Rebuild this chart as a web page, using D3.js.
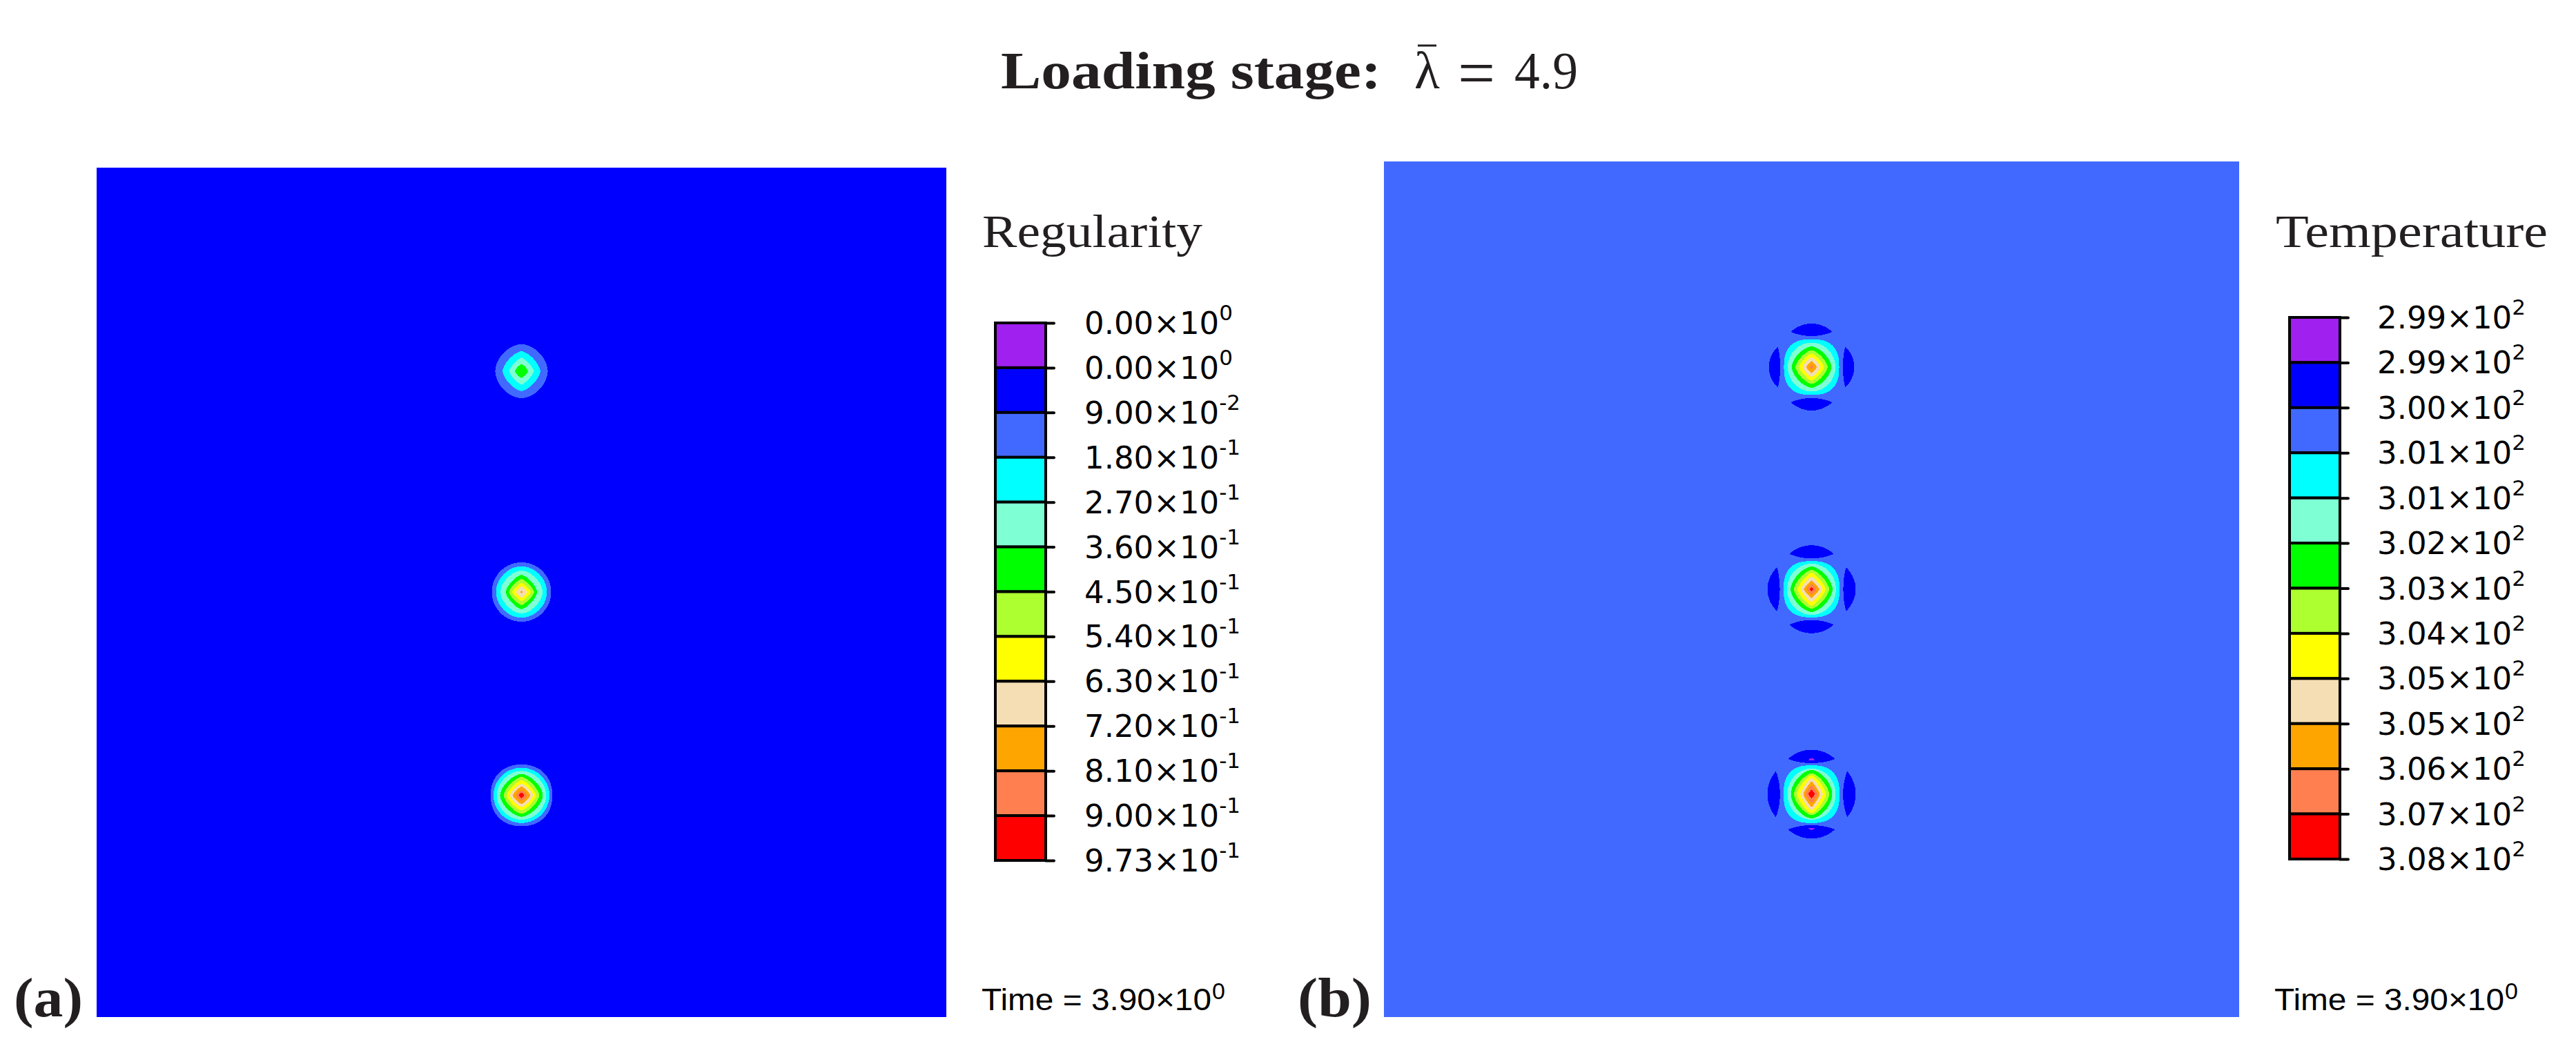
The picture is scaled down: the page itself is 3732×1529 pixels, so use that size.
<!DOCTYPE html>
<html><head><meta charset="utf-8">
<script src="https://cdnjs.cloudflare.com/ajax/libs/d3/7.8.5/d3.min.js"></script>
<style>html,body{margin:0;padding:0;background:#fff}svg{display:block}</style></head>
<body><svg id="c" width="3732" height="1529"></svg>
<script>
// Band colours, legend order (top to bottom)
const bandColors = ["#A020F0","#0000FF","#4169FF","#00FFFF","#7FFFD4","#00FF00","#ADFF2F","#FFFF00","#F5DEB3","#FFA500","#FF7F50","#FF0000"];
// Legend tick labels: mantissa, exponent
const regularityMantissa = ["0.00","0.00","9.00","1.80","2.70","3.60","4.50","5.40","6.30","7.20","8.10","9.00","9.73"];
const regularityExponent = ["0","0","-2","-1","-1","-1","-1","-1","-1","-1","-1","-1","-1"];
const temperatureMantissa = ["2.99","2.99","3.00","3.01","3.01","3.02","3.03","3.04","3.05","3.05","3.06","3.07","3.08"];
const temperatureExponent = ["2","2","2","2","2","2","2","2","2","2","2","2","2"];
// Spot centres in specimen coordinates (0..1000)
const regularitySpots = [[500,239.6],[500,499.6],[500,739]];
const temperatureSpots = [[500,240.3],[500,500],[500,739.5]];
// Iso-band outlines per spot: [band index, half-width, half-height, roundness]
const regularityBands = [
 [[2,30.9,31.7,1.8],[3,22.3,23.5,1.5],[4,14.6,15.8,1.3],[5,7.7,8.0,1.35]],
 [[2,34.9,34.9,2.0],[3,30.0,30.3,1.9],[4,24.9,25.2,1.7],[5,18.7,20.3,1.4],[6,15.0,15.4,1.3],[7,11.0,10.8,1.25],[8,6.5,6.5,1.25],[9,1.9,1.6,1.2]],
 [[2,36.3,36.3,2.2],[3,32.9,32.5,2.0],[4,29.0,28.7,1.9],[5,25.2,25.2,1.6],[6,21.1,21.7,1.45],[7,17.3,17.9,1.35],[8,13.8,13.8,1.3],[9,10.3,10.4,1.25],[10,6.5,6.1,1.25],[11,3.1,3.2,1.2]]
];
const temperatureBands = [
 [[3,32.3,32.5,2.6],[4,27.8,28.5,2.0],[5,23.2,24.1,1.6],[6,18.8,19.7,1.45],[7,14.5,15.8,1.35],[8,10.3,11.6,1.3],[9,5.9,7.0,1.25],[10,2.2,2.2,1.2]],
 [[3,32.7,32.9,2.6],[4,28.5,29.9,2.0],[5,24.5,26.6,1.6],[6,20.7,22.8,1.45],[7,16.5,19.4,1.3],[8,12.9,14.9,1.2],[9,9.1,10.1,1.2],[10,5.6,6.3,1.2],[11,2.2,2.4,1.2]],
 [[3,32.7,33.7,2.6],[4,28.2,29.9,2.0],[5,24.2,28.2,1.7],[6,20.7,24.5,1.5],[7,16.9,22.2,1.4],[8,13.2,19.4,1.2],[9,9.7,14.8,1.2],[10,7.0,10.2,1.2],[11,3.8,5.1,1.2]]
];
// Cold lobes around each temperature spot: [band, side angle deg, tip radius, outer radius, inner radius, half-length]
const temperatureLobes = [
 [[1,0,41.2,50.8,36.3,24.0],[1,180,41.2,50.8,36.3,24.0],[1,90,39.5,50.0,36.6,23.6],[1,270,39.5,50.0,36.6,23.6]],
 [[1,0,41.4,51.4,36.1,25.8],[1,180,41.4,51.4,36.1,25.8],[1,90,40.4,51.6,37.1,25.4],[1,270,40.4,51.6,37.1,25.4]],
 [[1,0,41.2,51.9,36.3,27.2],[1,180,41.2,51.9,36.3,27.2],[1,90,41.7,51.6,36.9,26.6],[1,270,41.7,51.6,36.9,26.6],[0,0,39.5,42.0,39.5,3.6],[0,180,39.5,42.0,39.5,3.6]]
];
const titleBold = "Loading stage:", titleLambda = "λ", titleEquals = "=", titleValue = "4.9";
const timeMantissa = "Time = 3.90×10", timeExponent = "0";

const svg = d3.select("#c");
const specimenDomain = [0,1000];

function panel(cfg){
  const x = d3.scaleLinear().domain(specimenDomain).range([cfg.x0,cfg.x1]);
  const y = d3.scaleLinear().domain(specimenDomain).range([cfg.y0,cfg.y1]);
  const g = svg.append("g").attr("shape-rendering","crispEdges");
  g.append("rect").attr("x",x(0)).attr("y",y(0)).attr("width",x(1000)-x(0)).attr("height",y(1000)-y(0)).attr("fill",bandColors[cfg.bg]);
  const line = d3.line().x(d=>x(d[0])).y(d=>y(d[1])).curve(d3.curveLinearClosed);
  const angles = d3.range(0,360,3).map(a=>a*Math.PI/180);
  cfg.spots.forEach((c,i)=>{
    if(cfg.lobes){
      const ts = d3.range(-1,1.0001,0.05);
      cfg.lobes[i].forEach(([band,ang,tip,outer,inner,half])=>{
        const th = ang*Math.PI/180;
        const prof = t=>Math.pow(Math.max(0,1-t*t),0.9);
        const pts = ts.map(t=>[half*t, tip+(outer-tip)*prof(t)])
            .concat(ts.slice().reverse().map(t=>[half*t, tip-(tip-inner)*prof(t)]));
        const rot = pts.map(([u,r])=>[c[0]+u*Math.cos(th)+r*Math.sin(th), c[1]+u*Math.sin(th)-r*Math.cos(th)]);
        g.append("path").attr("d",line(rot)).attr("fill",bandColors[band]);
      });
    }
    cfg.bands[i].forEach(([band,a,b,p])=>{
      const pts = angles.map(t=>{
        const ct=Math.cos(t), st=Math.sin(t);
        return [c[0]+a*Math.sign(ct)*Math.pow(Math.abs(ct),2/p), c[1]+b*Math.sign(st)*Math.pow(Math.abs(st),2/p)];
      });
      g.append("path").attr("d",line(pts)).attr("fill",bandColors[band]);
    });
  });
}
panel({x0:140,x1:1371,y0:243,y1:1474,bg:1,spots:regularitySpots,bands:regularityBands});
panel({x0:2005,x1:3244,y0:234,y1:1474,bg:2,spots:temperatureSpots,bands:temperatureBands,lobes:temperatureLobes});

function legend(cfg){
  const ticks = d3.range(13);
  const y = d3.scaleLinear().domain([0,12]).range([cfg.top,cfg.bottom]);
  const g = svg.append("g");
  g.selectAll("rect.b").data(bandColors).join("rect").attr("class","b")
    .attr("x",cfg.x).attr("width",73).attr("y",(d,i)=>y(i)).attr("height",(d,i)=>y(i+1)-y(i))
    .attr("fill",d=>d).attr("stroke","#000").attr("stroke-width",4);
  const ax = d3.axisRight(y).tickValues(ticks).tickSize(12).tickFormat("");
  const a = g.append("g").attr("transform",`translate(${cfg.x+73},0)`).call(ax);
  a.select(".domain").remove();
  a.selectAll("line").attr("stroke","#000").attr("stroke-width",4).attr("stroke-linecap","round");
  const t = g.selectAll("text.l").data(ticks).join("text").attr("class","l")
    .attr("x",cfg.labelX).attr("y",d=>y(d)+16)
    .attr("font-family","'DejaVu Sans'").attr("font-size",45).attr("fill","#000");
  t.append("tspan").text(d=>cfg.mant[d]+"×10");
  t.append("tspan").attr("font-size",31).attr("dy",-20).text(d=>cfg.exp[d]);
  svg.append("text").attr("x",cfg.titleX).attr("y",358).attr("font-family","'Liberation Serif'").attr("font-size",68)
    .attr("fill","#231f20").attr("textLength",cfg.tw).attr("lengthAdjust","spacingAndGlyphs").text(cfg.title);
  const tm = svg.append("g").attr("font-family","'Liberation Sans'").attr("fill","#000");
  tm.append("text").attr("x",cfg.timeX).attr("y",1464).attr("font-size",45).attr("textLength",333).attr("lengthAdjust","spacingAndGlyphs").text(timeMantissa);
  tm.append("text").attr("x",cfg.timeX+334).attr("y",1448).attr("font-size",34).text(timeExponent);
}
legend({x:1442,top:468,bottom:1247,labelX:1571,titleX:1423,timeX:1422,mant:regularityMantissa,exp:regularityExponent,title:"Regularity",tw:319});
legend({x:3317,top:460,bottom:1245,labelX:3444,titleX:3297,timeX:3295,mant:temperatureMantissa,exp:temperatureExponent,title:"Temperature",tw:394});

const tt = svg.append("g").attr("font-family","'Liberation Serif'").attr("fill","#231f20");
tt.append("text").attr("x",1450).attr("y",128).attr("font-size",77).attr("font-weight","bold")
  .attr("textLength",551).attr("lengthAdjust","spacingAndGlyphs").text(titleBold);
tt.append("text").attr("x",2049).attr("y",128).attr("font-size",76).text(titleLambda);
tt.append("line").attr("x1",2054).attr("x2",2081).attr("y1",66).attr("y2",66).attr("stroke","#231f20").attr("stroke-width",3);
tt.append("text").attr("x",2112).attr("y",138).attr("font-size",96).text(titleEquals);
tt.append("text").attr("x",2194).attr("y",128).attr("font-size",76).attr("textLength",92).attr("lengthAdjust","spacingAndGlyphs").text(titleValue);

const lab = svg.append("g").attr("font-family","'Liberation Serif'").attr("font-weight","bold").attr("font-size",80).attr("fill","#231f20");
lab.append("text").attr("x",20).attr("y",1473).attr("textLength",100).attr("lengthAdjust","spacingAndGlyphs").text("(a)");
lab.append("text").attr("x",1880).attr("y",1473).attr("textLength",107).attr("lengthAdjust","spacingAndGlyphs").text("(b)");
</script></body></html>
